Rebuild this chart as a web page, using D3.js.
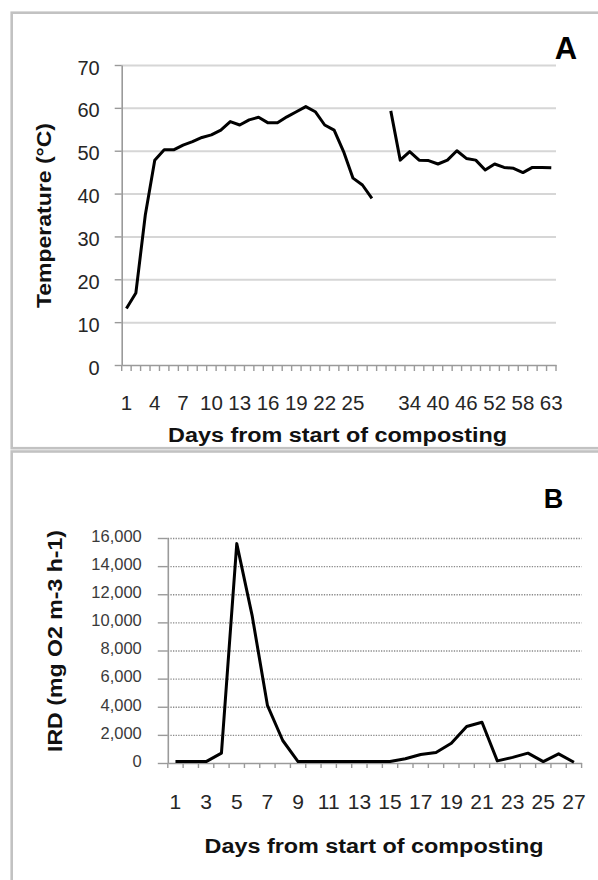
<!DOCTYPE html>
<html>
<head>
<meta charset="utf-8">
<script src="https://cdn.jsdelivr.net/npm/d3@7"></script>
<style>
  body { margin: 0; background: #fff; }
  svg { display: block; font-family: "Liberation Sans", Arial, sans-serif; }
</style>
</head>
<body>
<div id="chart"></div>
<script>
// ---- data panel A (temperature), one category per reading, "" = missing day
var daysA = ["1","2","3","4","5","6","7","8","9","10","11","12","13","14","15","16","17","18","19","20",
  "21","22","23","24","25","26","27","","30","32","34","36","38","40","42","44","46","48","50","52",
  "54","56","58","60","62","63"];
var tempA = [13.2, 16.8, 35, 47.8, 50.2, 50.2, 51.3, 52.1, 53.1, 53.7, 54.8, 56.8, 56.0, 57.2, 57.8,
  56.5, 56.5, 57.9, 59.1, 60.3, 59.1, 56.0, 54.8, 49.8, 43.6, 42.0, 38.9, null,
  59.3, 47.8, 49.8, 47.8, 47.7, 46.9, 47.8, 50.0, 48.2, 47.8, 45.5, 46.9, 46.1, 45.9, 44.9, 46.1, 46.1, 46.0];
var tempTicks = [0, 10, 20, 30, 40, 50, 60, 70];

// ---- data panel B (IRD)
var daysB = d3.range(1, 28).map(String);
var irdB = [100, 100, 100, 700, 15600, 10500, 4100, 1600, 100, 100, 100, 100, 100, 100, 100,
  300, 600, 750, 1400, 2600, 2900, 150, 400, 700, 100, 650, 50];
var irdTicks = [0, 2000, 4000, 6000, 8000, 10000, 12000, 14000, 16000];

var svg = d3.select("#chart").append("svg")
  .attr("width", 598)
  .attr("height", 880);

// frames of the two panels
svg.append("rect").attr("x", 11.7).attr("y", 12.7).attr("width", 620).attr("height", 435.5)
  .attr("fill", "none").attr("stroke", "#c2c2c2").attr("stroke-width", 2.6);
svg.append("rect").attr("x", 11.7).attr("y", 451.5).attr("width", 620).attr("height", 500)
  .attr("fill", "none").attr("stroke", "#c2c2c2").attr("stroke-width", 2.6);

function styleAxis(g, size, col) {
  g.select(".domain").attr("stroke", "#9a9a9a").attr("stroke-width", 1.6);
  g.selectAll(".tick line").attr("stroke", "#9a9a9a").attr("stroke-width", 1.4);
  g.selectAll(".tick text").style("font-size", size + "px").attr("fill", col);
}

/* ===================== PANEL A ===================== */
var xA = d3.scaleBand().domain(d3.range(daysA.length)).range([121.7, 556]);
var yA = d3.scaleLinear().domain([0, 70]).range([365, 65]);

// gridlines
svg.append("g")
  .attr("transform", "translate(121.7,0)")
  .call(d3.axisLeft(yA).tickValues(tempTicks.slice(1)).tickSize(-(556 - 121.7)).tickFormat(""))
  .call(function(g) { g.select(".domain").remove(); })
  .selectAll("line").attr("stroke", "#d6d6d6").attr("stroke-width", 2);

// y axis
var gyA = svg.append("g")
  .attr("transform", "translate(121.7,0)")
  .call(d3.axisLeft(yA).tickValues(tempTicks).tickSize(7).tickSizeOuter(0).tickPadding(15));
styleAxis(gyA, 20, "#262626");
gyA.selectAll(".tick text").attr("dy", "0.45em");

// x axis, label every 3rd category
var gxA = svg.append("g")
  .attr("transform", "translate(0,365)")
  .call(d3.axisBottom(xA).tickSize(0).tickSizeOuter(0).tickPadding(30)
    .tickFormat(function(i) { return i % 3 == 0 ? daysA[i] : ""; }));
styleAxis(gxA, 20.5, "#262626");

// tick marks between categories (like excel)
var edgesA = xA.domain().map(function(i) { return xA(i); }).concat([xA.range()[1]]);
svg.selectAll(".edgeA").data(edgesA).enter().append("line")
  .attr("x1", function(d) { return d; }).attr("x2", function(d) { return d; })
  .attr("y1", 365).attr("y2", 371)
  .attr("stroke", "#9a9a9a").attr("stroke-width", 1.4);

var lineA = d3.line()
  .defined(function(d) { return d != null; })
  .x(function(d, i) { return xA(i) + xA.bandwidth() / 2; })
  .y(function(d) { return yA(d); });

svg.append("path")
  .datum(tempA)
  .attr("d", lineA)
  .attr("fill", "none")
  .attr("stroke", "#000")
  .attr("stroke-width", 3)
  .attr("stroke-linejoin", "round");

// titles A
svg.append("text")
  .attr("transform", "translate(51,215.5) rotate(-90)")
  .attr("text-anchor", "middle")
  .attr("textLength", 185).attr("lengthAdjust", "spacingAndGlyphs")
  .style("font-size", "20px").style("font-weight", "bold").attr("fill", "#111")
  .text("Temperature (°C)");
svg.append("text")
  .attr("x", 337.5).attr("y", 442)
  .attr("text-anchor", "middle")
  .attr("textLength", 339).attr("lengthAdjust", "spacingAndGlyphs")
  .style("font-size", "20px").style("font-weight", "bold").attr("fill", "#111")
  .text("Days from start of composting");
svg.append("text")
  .attr("x", 566).attr("y", 59)
  .attr("text-anchor", "middle")
  .style("font-size", "31px").style("font-weight", "bold").attr("fill", "#000")
  .text("A");

/* ===================== PANEL B ===================== */
var xB = d3.scaleBand().domain(d3.range(daysB.length)).range([167.8, 581.6]);
var yB = d3.scaleLinear().domain([0, 16000]).range([763, 538]);

// dotted gridlines
svg.append("g")
  .attr("transform", "translate(167.8,0)")
  .call(d3.axisLeft(yB).tickValues(irdTicks.slice(1)).tickSize(-(581.6 - 167.8)).tickFormat(""))
  .call(function(g) { g.select(".domain").remove(); })
  .selectAll("line").attr("stroke", "#8a8a8a").attr("stroke-width", 1.3).attr("stroke-dasharray", "1.3,1.3");

var gyB = svg.append("g")
  .attr("transform", "translate(167.8,0)")
  .call(d3.axisLeft(yB).tickValues(irdTicks).tickSize(10).tickSizeOuter(0).tickPadding(16)
    .tickFormat(d3.format(",")));
styleAxis(gyB, 16.5, "#3a3a3a");
gyB.selectAll(".tick text").attr("dy", "0.2em");

var gxB = svg.append("g")
  .attr("transform", "translate(0,763)")
  .call(d3.axisBottom(xB).tickSize(0).tickSizeOuter(0).tickPadding(31)
    .tickFormat(function(i) { return i % 2 == 0 ? daysB[i] : ""; }));
styleAxis(gxB, 21, "#262626");

var edgesB = xB.domain().map(function(i) { return xB(i); }).concat([xB.range()[1]]);
svg.selectAll(".edgeB").data(edgesB).enter().append("line")
  .attr("x1", function(d) { return d; }).attr("x2", function(d) { return d; })
  .attr("y1", 763).attr("y2", 768)
  .attr("stroke", "#9a9a9a").attr("stroke-width", 1.4);

var lineB = d3.line()
  .x(function(d, i) { return xB(i) + xB.bandwidth() / 2; })
  .y(function(d) { return yB(d); });

svg.append("path")
  .datum(irdB)
  .attr("d", lineB)
  .attr("fill", "none")
  .attr("stroke", "#000")
  .attr("stroke-width", 3)
  .attr("stroke-linejoin", "round");

// titles B
svg.append("text")
  .attr("transform", "translate(62,641) rotate(-90)")
  .attr("text-anchor", "middle")
  .attr("textLength", 222).attr("lengthAdjust", "spacingAndGlyphs")
  .style("font-size", "20px").style("font-weight", "bold").attr("fill", "#111")
  .text("IRD (mg O2 m-3 h-1)");
svg.append("text")
  .attr("x", 374).attr("y", 853)
  .attr("text-anchor", "middle")
  .attr("textLength", 339).attr("lengthAdjust", "spacingAndGlyphs")
  .style("font-size", "20px").style("font-weight", "bold").attr("fill", "#111")
  .text("Days from start of composting");
svg.append("text")
  .attr("x", 553.6).attr("y", 508)
  .attr("text-anchor", "middle")
  .style("font-size", "27px").style("font-weight", "bold").attr("fill", "#000")
  .text("B");
</script>
</body>
</html>
